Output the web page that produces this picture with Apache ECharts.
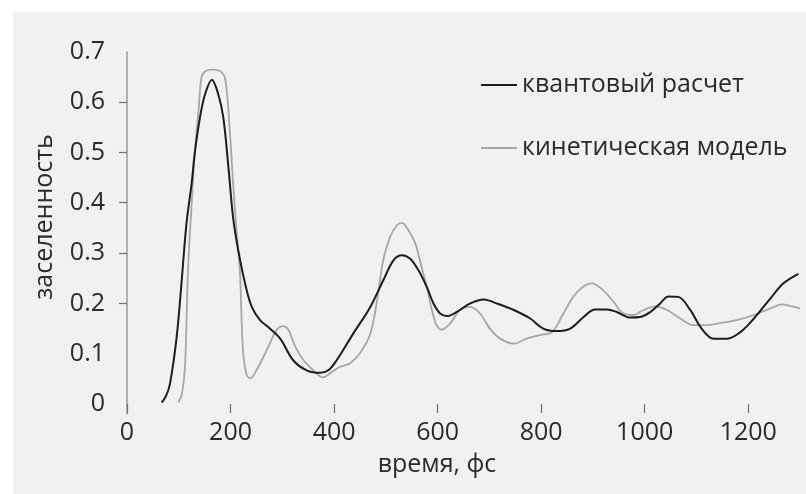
<!DOCTYPE html>
<html><head><meta charset="utf-8">
<script src="https://cdn.jsdelivr.net/npm/echarts@6/dist/echarts.min.js"></script>
<style>
html,body{margin:0;padding:0;background:#fff;}
#wrap{position:relative;width:806px;height:494px;background:#fff;}
#bg{position:absolute;left:13px;top:12px;right:0;bottom:0;background:#f1f1f1;}
#chart{position:absolute;left:0;top:0;width:806px;height:494px;}
</style></head>
<body>
<div id="wrap"><div id="bg"></div><div id="chart"></div></div>
<script>
const seriesNames = ['квантовый расчет', 'кинетическая модель'];
const xAxisTitle = 'время, фс';
const yAxisTitle = 'заселенность';

const quantumT = [67,75,83,96,106,115,125,131,141,151,164,176,186,196,205,215,228,241,257,276,296,321,347,373,389,405,437,470,495,515,531,547,563,579,592,605,618,637,663,689,714,747,779,804,830,856,882,904,927,946,972,991,1011,1030,1046,1065,1088,1110,1133,1159,1185,1211,1243,1268,1297];
const quantumV = [0.003,0.015,0.04,0.134,0.25,0.36,0.44,0.50,0.57,0.617,0.645,0.617,0.57,0.47,0.37,0.305,0.24,0.193,0.167,0.150,0.130,0.087,0.067,0.062,0.067,0.087,0.140,0.193,0.246,0.286,0.296,0.289,0.266,0.233,0.200,0.180,0.175,0.183,0.200,0.208,0.200,0.187,0.170,0.150,0.145,0.150,0.173,0.188,0.188,0.183,0.172,0.173,0.183,0.200,0.214,0.213,0.187,0.150,0.130,0.130,0.143,0.170,0.210,0.240,0.259];

const kineticT = [99,106,112,118,125,131,138,144,152,165,180,190,199,205,212,218,224,231,238,250,270,289,302,312,325,341,360,379,396,412,431,450,470,483,495,508,521,531,544,557,569,579,589,598,608,624,643,663,682,701,721,747,772,798,821,843,862,882,898,920,940,959,978,998,1020,1043,1069,1094,1120,1146,1178,1211,1243,1265,1284,1300];
const kineticV = [0.003,0.02,0.074,0.27,0.40,0.50,0.58,0.65,0.662,0.665,0.662,0.645,0.537,0.438,0.339,0.266,0.107,0.058,0.051,0.067,0.107,0.147,0.155,0.147,0.114,0.087,0.067,0.053,0.064,0.074,0.081,0.101,0.140,0.206,0.286,0.332,0.355,0.360,0.345,0.319,0.272,0.233,0.187,0.157,0.148,0.160,0.187,0.193,0.180,0.150,0.130,0.120,0.130,0.137,0.143,0.180,0.213,0.234,0.240,0.226,0.203,0.180,0.177,0.187,0.194,0.187,0.170,0.157,0.157,0.161,0.167,0.177,0.190,0.198,0.194,0.190];

const zip = (t, v) => t.map((x, i) => [x, v[i]]);
const FONT = '"Open Sans", "Noto Sans", sans-serif';
const FS = 25;
const TXT = '#2a2a2a';
const TICK = {color: '#6e6e6e', width: 1.2};
const CLEAR = {show: true, lineStyle: {color: 'rgba(0,0,0,0)', width: 1}};

const G = {left: 127, right: 6, top: 52, bottom: 90};
const plotH = 494 - G.top - G.bottom;
const yPx = v => G.top + (0.7 - v) / 0.7 * plotH;
const xRight1200 = 806 - (G.left + 1200 / 1300 * (806 - G.left - G.right));

const chart = echarts.init(document.getElementById('chart'), null, {renderer: 'canvas'});
chart.setOption({
  backgroundColor: 'transparent',
  animation: false,
  textStyle: {fontFamily: FONT},
  grid: [
    {left: G.left, right: G.right, top: G.top, bottom: G.bottom},
    {left: G.left, right: G.right, top: G.top, bottom: G.bottom - 10},
    {left: G.left, right: xRight1200, top: G.top, bottom: G.bottom},
    {left: G.left, right: G.right, top: Math.round(yPx(0.6)), bottom: Math.round(494 - yPx(0.2))}
  ],
  legend: {
    orient: 'vertical', left: 476, top: 65, itemGap: 33,
    itemWidth: 36, itemHeight: 2, icon: 'rect',
    textStyle: {fontFamily: FONT, fontSize: FS, color: TXT, lineHeight: 30},
    data: seriesNames
  },
  xAxis: [
    {gridIndex: 0, type: 'value', min: 0, max: 1300, show: false},
    {gridIndex: 1, type: 'value', min: 0, max: 1, show: false},
    {
      gridIndex: 2, type: 'value', min: 0, max: 1200, interval: 200,
      axisLine: CLEAR, splitLine: {show: false},
      axisTick: {show: true, inside: false, length: 9, lineStyle: TICK},
      axisLabel: {show: true, fontSize: FS, color: TXT, margin: 16, fontFamily: FONT, formatter: v => String(v)}
    },
    {gridIndex: 3, type: 'value', min: 0, max: 1, show: false}
  ],
  yAxis: [
    {
      gridIndex: 0, type: 'value', min: 0, max: 0.7, interval: 0.1,
      axisLine: CLEAR, splitLine: {show: false}, axisTick: {show: false},
      axisLabel: {show: true, fontSize: FS, color: TXT, margin: 22, fontFamily: FONT,
        formatter: v => String(Math.round(v * 10) / 10)}
    },
    {
      gridIndex: 1, type: 'value', min: 0, max: 1,
      axisLine: {show: true, lineStyle: {color: '#999', width: 1.5}},
      axisTick: {show: false}, axisLabel: {show: false}, splitLine: {show: false}
    },
    {gridIndex: 2, type: 'value', min: 0, max: 1, show: false},
    {
      gridIndex: 3, type: 'value', min: 0.2, max: 0.6, interval: 0.1,
      axisLine: CLEAR, splitLine: {show: false},
      axisTick: {show: true, inside: false, length: 8, lineStyle: TICK},
      axisLabel: {show: false}
    }
  ],
  graphic: [
    {type: 'text', x: 437, y: 465, style: {text: xAxisTitle, fontSize: FS, fontFamily: FONT, fill: TXT, textAlign: 'center', textVerticalAlign: 'middle'}},
    {type: 'text', x: 45, y: 217, rotation: Math.PI / 2, style: {text: yAxisTitle, fontSize: FS, fontFamily: FONT, fill: TXT, textAlign: 'center', textVerticalAlign: 'middle'}}
  ],
  series: [
    {name: seriesNames[0], type: 'line', xAxisIndex: 0, yAxisIndex: 0, data: zip(quantumT, quantumV), showSymbol: false, smooth: 0.35,
      lineStyle: {color: '#1c1c1c', width: 2}, itemStyle: {color: '#1c1c1c'}, z: 3},
    {name: seriesNames[1], type: 'line', xAxisIndex: 0, yAxisIndex: 0, data: zip(kineticT, kineticV), showSymbol: false, smooth: 0.35,
      lineStyle: {color: '#a6a6a6', width: 1.8}, itemStyle: {color: '#a6a6a6'}, z: 2}
  ]
});
</script>
</body></html>
